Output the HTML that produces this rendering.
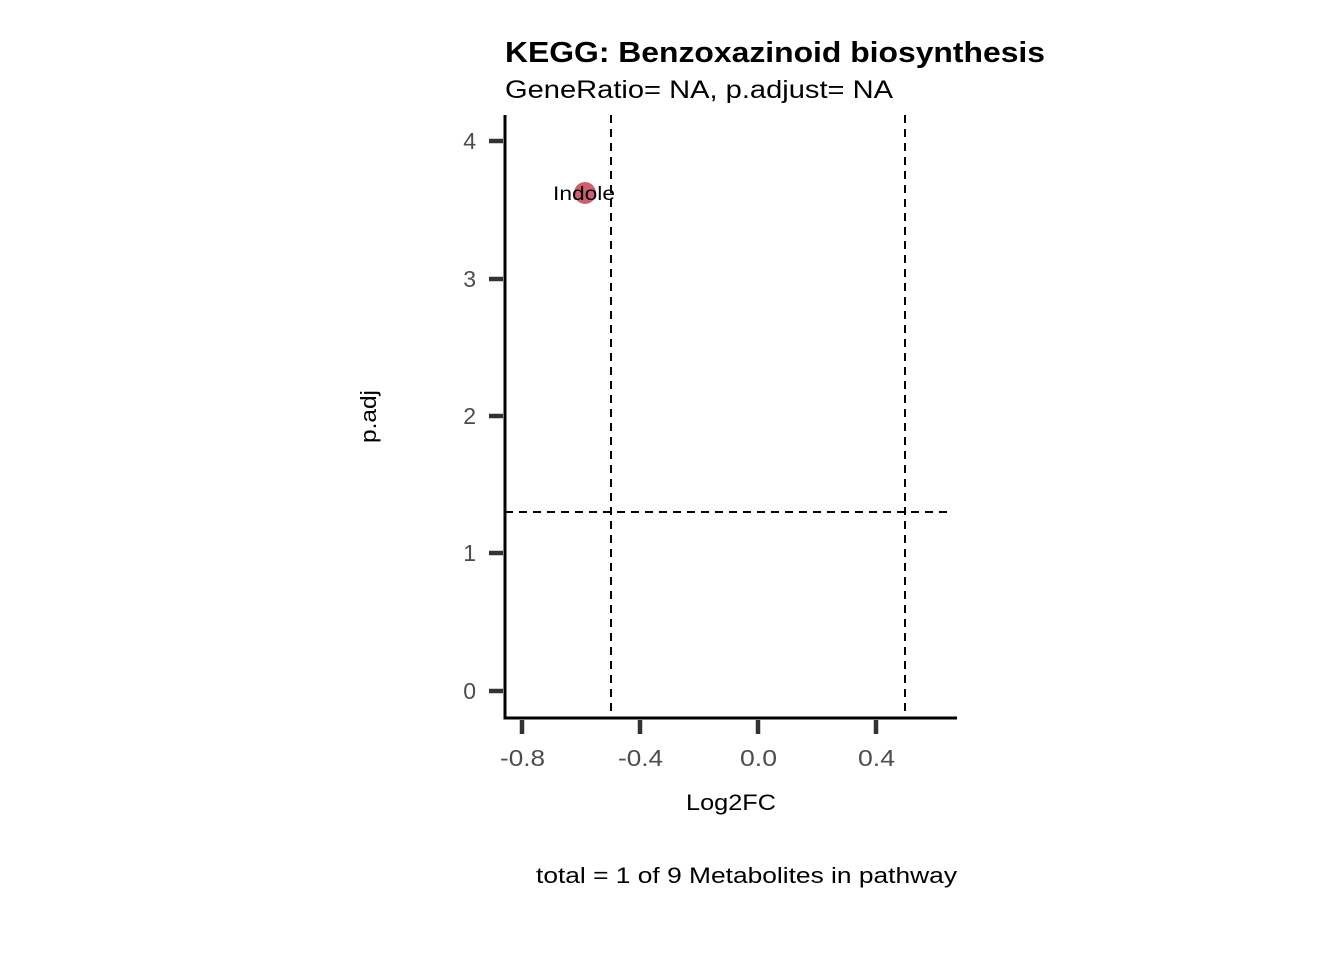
<!DOCTYPE html>
<html><head><meta charset="utf-8"><style>body{margin:0;background:#fff}</style></head><body>
<svg width="1344" height="960" xmlns="http://www.w3.org/2000/svg" font-family="Liberation Sans, sans-serif">
<rect width="1344" height="960" fill="#fff"/>
<text x="505" y="62" font-size="29" font-weight="bold" fill="#000" textLength="540" lengthAdjust="spacingAndGlyphs">KEGG: Benzoxazinoid biosynthesis</text>
<text x="505" y="98" font-size="25" fill="#000" textLength="388" lengthAdjust="spacingAndGlyphs">GeneRatio= NA, p.adjust= NA</text>
<g stroke="#000" stroke-width="2" stroke-dasharray="8,6" fill="none">
<line x1="611" y1="115" x2="611" y2="718"/>
<line x1="905" y1="115" x2="905" y2="718"/>
<line x1="505" y1="512" x2="950" y2="512"/>
</g>
<circle cx="585" cy="193" r="11" fill="#cd6070"/>
<text x="553" y="200" font-size="19" fill="#000" textLength="62" lengthAdjust="spacingAndGlyphs">Indole</text>
<line x1="505" y1="115" x2="505" y2="719.5" stroke="#000" stroke-width="3"/>
<line x1="503.5" y1="718" x2="957" y2="718" stroke="#000" stroke-width="3"/>
<g stroke="#333" stroke-width="4.5">
<line x1="489" y1="141" x2="503" y2="141"/><line x1="489" y1="279" x2="503" y2="279"/>
<line x1="489" y1="416" x2="503" y2="416"/><line x1="489" y1="553" x2="503" y2="553"/>
<line x1="489" y1="691" x2="503" y2="691"/>
<line x1="522" y1="720" x2="522" y2="734"/><line x1="640" y1="720" x2="640" y2="734"/>
<line x1="758" y1="720" x2="758" y2="734"/><line x1="876" y1="720" x2="876" y2="734"/>
</g>
<g font-size="23" fill="#4d4d4d" text-anchor="end">
<text x="476" y="149">4</text><text x="476" y="287">3</text><text x="476" y="424">2</text>
<text x="476" y="561">1</text><text x="476" y="699">0</text>
</g>
<g font-size="23" fill="#4d4d4d">
<text x="500" y="766" textLength="45" lengthAdjust="spacingAndGlyphs">-0.8</text>
<text x="618" y="766" textLength="45" lengthAdjust="spacingAndGlyphs">-0.4</text>
<text x="740" y="766" textLength="37" lengthAdjust="spacingAndGlyphs">0.0</text>
<text x="858" y="766" textLength="37" lengthAdjust="spacingAndGlyphs">0.4</text>
</g>
<text x="686" y="810" font-size="22" fill="#000" textLength="90" lengthAdjust="spacingAndGlyphs">Log2FC</text>
<text transform="translate(376,443) rotate(-90)" font-size="22" fill="#000" textLength="53" lengthAdjust="spacingAndGlyphs">p.adj</text>
<text x="536" y="883" font-size="22" fill="#000" textLength="421" lengthAdjust="spacingAndGlyphs">total = 1 of 9 Metabolites in pathway</text>
</svg>
</body></html>
